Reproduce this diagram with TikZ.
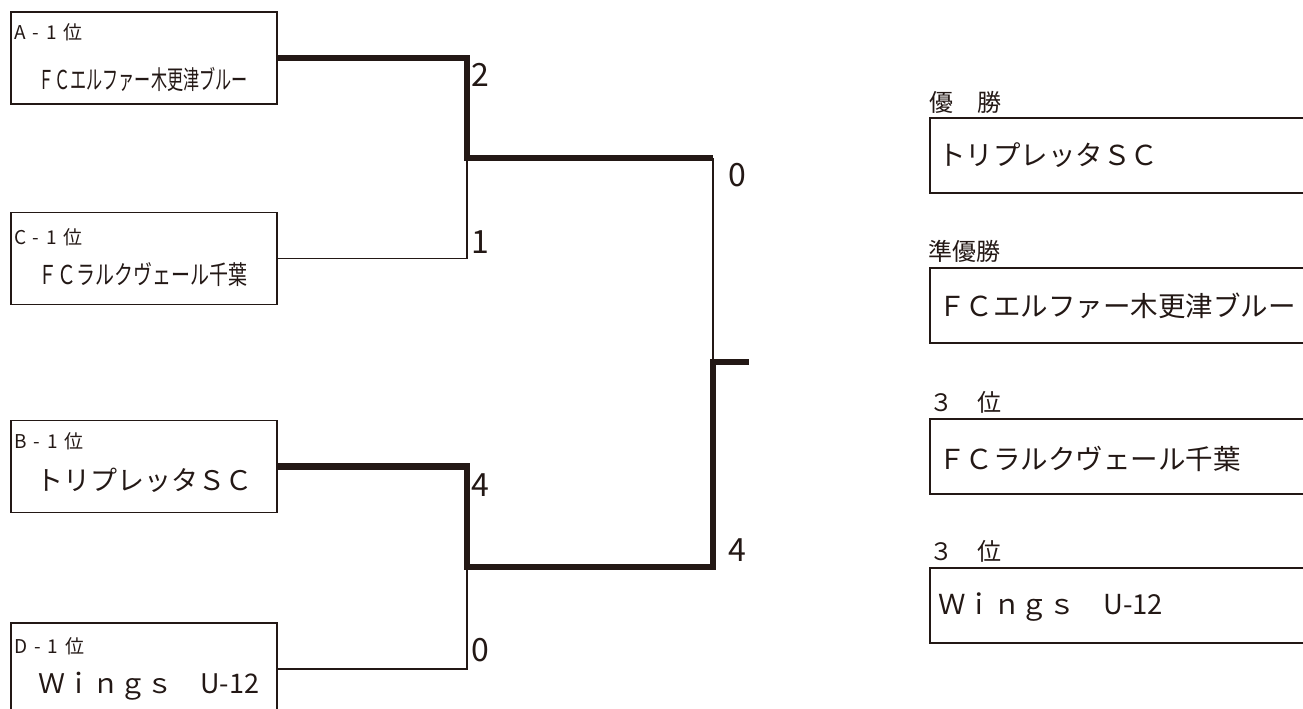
\documentclass[tikz,border=0pt]{standalone}
\usepackage{fontspec}
\setmainfont{Noto Sans CJK JP}
\usetikzlibrary{positioning}
\definecolor{ink}{HTML}{231815}

\begin{document}
\begin{tikzpicture}[
    x=1pt, y=-1pt,
    every node/.style={color=ink},
    team box/.style={draw=ink, line width=1.3pt, minimum width=266pt,
    minimum height=92pt, inner sep=0pt},
    result box/.style={draw=ink, line width=2pt, minimum width=400pt,
    minimum height=75pt, inner sep=0pt, anchor=north west},
    winner line/.style={draw=ink, line width=6.5pt},
    loser line/.style={draw=ink, line width=1.3pt},
    seed tag/.style={anchor=base west, inner sep=0pt,
    font=\fontsize{19pt}{19pt}\selectfont\addfontfeature{LetterSpace=37}},
    rank tag/.style={anchor=base west, inner sep=0pt, font=\fontsize{24pt}{24pt}\selectfont},
    team name/.style={anchor=base west, inner sep=0pt, font=\fontsize{27pt}{27pt}\selectfont},
    small name/.style={anchor=base west, inner sep=0pt, font=\fontsize{26pt}{26pt}\selectfont},
    result name/.style={anchor=base west, inner sep=0pt, font=\fontsize{27.5pt}{27.5pt}\selectfont},
    score num/.style={anchor=base west, inner sep=0pt, font=\fontsize{32pt}{32pt}\selectfont}
    ]
    \useasboundingbox (0,0) rectangle (1303,709);
    % Teams
    \node[team box] (teamA) at (144,58) {};
    \node[team box] (teamC) at (144,258.5) {};
    \node[team box] (teamB) at (144,466.5) {};
    \node[team box] (teamD) at (144,669) {};
    \node[seed tag] (tagA) at (14,40) {A-1位};
    \node[seed tag] (tagC) at (14,244) {C-1位};
    \node[seed tag] (tagB) at (14,448) {B-1位};
    \node[seed tag] (tagD) at (14,653) {D-1位};
    \node[small name] (nameA) at (38,89) {\scalebox{0.62}[1]{ＦＣエルファー木更津ブルー}};
    \node[small name] (nameC) at (38,284) {\scalebox{0.73}[1]{ＦＣラルクヴェール千葉}};
    \node[team name] (nameB) at (36,490) {トリプレッタＳＣ};
    \node[team name] (nameD) at (38,693) {Ｗｉｎｇｓ　U-12};
    % Junctions
    \coordinate (j1) at (467,158);
    \coordinate (j2) at (467,567);
    \coordinate (s1) at (713,158);
    \coordinate (s2) at (713,567);
    \coordinate (f) at (713,362);
    \coordinate (top) at (749,362);
    % Lines
    \draw[loser line] (teamC.east) -| (j1);
    \draw[loser line] (teamD.east) -| (j2);
    \draw[loser line] (s1) -- (f);
    \draw[winner line] (teamA.east) -| (j1) -- (s1);
    \draw[winner line] (teamB.east) -| (j2) -- (s2) -- (f) -- (top);
    % Scores
    \node[score num] (scoreA) at (471,86) {2};
    \node[score num] (scoreC) at (471,253) {1};
    \node[score num] (scoreB) at (471,496) {4};
    \node[score num] (scoreD) at (471,661) {0};
    \node[score num] (scoreAC) at (728,186) {0};
    \node[score num] (scoreBD) at (728,561) {4};
    % Results
    \node[rank tag] (rank1) at (929,111) {優　勝};
    \node[result box] (champ) at (929,117) {};
    \node[result name] (champname) at (938,165) {トリプレッタＳＣ};
    \node[rank tag] (rank2) at (928,260) {準優勝};
    \node[result box] (runnerup) at (929,267) {};
    \node[result name] (runnerupname) at (938,316) {ＦＣエルファー木更津ブルー};
    \node[rank tag] (rank3a) at (929,411) {３　位};
    \node[result box] (thirdA) at (929,418) {};
    \node[result name] (thirdAname) at (938,469) {ＦＣラルクヴェール千葉};
    \node[rank tag] (rank3b) at (929,560) {３　位};
    \node[result box] (thirdB) at (929,567) {};
    \node[result name] (thirdBname) at (938,614) {Ｗｉｎｇｓ　U-12};
\end{tikzpicture}
\end{document}
